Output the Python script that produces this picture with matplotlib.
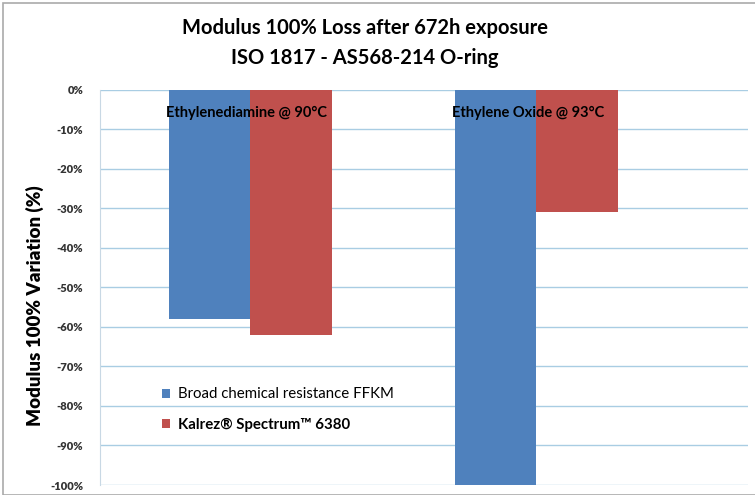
import matplotlib.pyplot as plt
from matplotlib.patches import Rectangle
from matplotlib.ticker import FuncFormatter

# data
conditions = ["Ethylenediamine @ 90°C", "Ethylene Oxide @ 93°C"]
series_names = ["Broad chemical resistance FFKM", "Kalrez® Spectrum™ 6380"]
ffkm = [-58, -100]
kalrez = [-62, -31]
yticks = list(range(0, -101, -10))

plt.rcParams['font.family'] = ['Lato', 'DejaVu Sans']

fig = plt.figure(figsize=(7.55, 4.95), dpi=100)
ax = fig.add_axes([100 / 755, 10 / 495, 648 / 755, 395.5 / 495])

x = [0, 1]
w = 0.285
ax.bar([i - w / 2 for i in x], ffkm, width=w, color="#4F81BD", label=series_names[0], zorder=2)
ax.bar([i + w / 2 for i in x], kalrez, width=w, color="#C0504D", label=series_names[1], zorder=2)

ax.set_ylim(-100, 0)
ax.set_xlim(-0.5245, 1.741)
ax.set_yticks(yticks)
ax.yaxis.set_major_formatter(FuncFormatter(lambda v, p: f"{int(v)}%"))
ax.set_xticks([])
ax.grid(axis="y", color="#a9cde3", linewidth=1, zorder=0)
ax.tick_params(axis="y", length=0, pad=12, labelsize=8, labelcolor="#333333")
for lab in ax.get_yticklabels():
    lab.set_fontweight("heavy")
for s in ["top", "right", "bottom"]:
    ax.spines[s].set_visible(False)
ax.spines["left"].set_color("#c8d8e4")

ax.set_ylabel("Modulus 100% Variation (%)", fontsize=13.5, fontweight="heavy")
ax.yaxis.set_label_coords(-0.086, 0.453)

# condition labels inside the plot
for i, name in enumerate(conditions):
    ax.text(i - w - 0.01, -6, name, fontsize=10.5, fontweight="bold", va="center", ha="left", zorder=3)

leg = ax.legend(loc="lower left", bbox_to_anchor=(0.075, 0.10), frameon=False,
                fontsize=10.8, handlelength=0.55, handleheight=0.55, labelspacing=1.1,
                handletextpad=0.5)
leg.get_texts()[1].set_fontweight("bold")

fig.text(365 / 755, 1 - 28 / 495, "Modulus 100% Loss after 672h exposure",
         ha="center", va="center", fontsize=14.5, fontweight="bold")
fig.text(365 / 755, 1 - 58 / 495, "ISO 1817 - AS568-214 O-ring",
         ha="center", va="center", fontsize=14.5, fontweight="bold")

fig.patches.append(Rectangle((3 / 755, 0), 1, 1 - 3 / 495, transform=fig.transFigure,
                             fill=False, edgecolor="#aaaaaa", linewidth=1.2))

plt.savefig("out.png", dpi=100)
plt.close()
